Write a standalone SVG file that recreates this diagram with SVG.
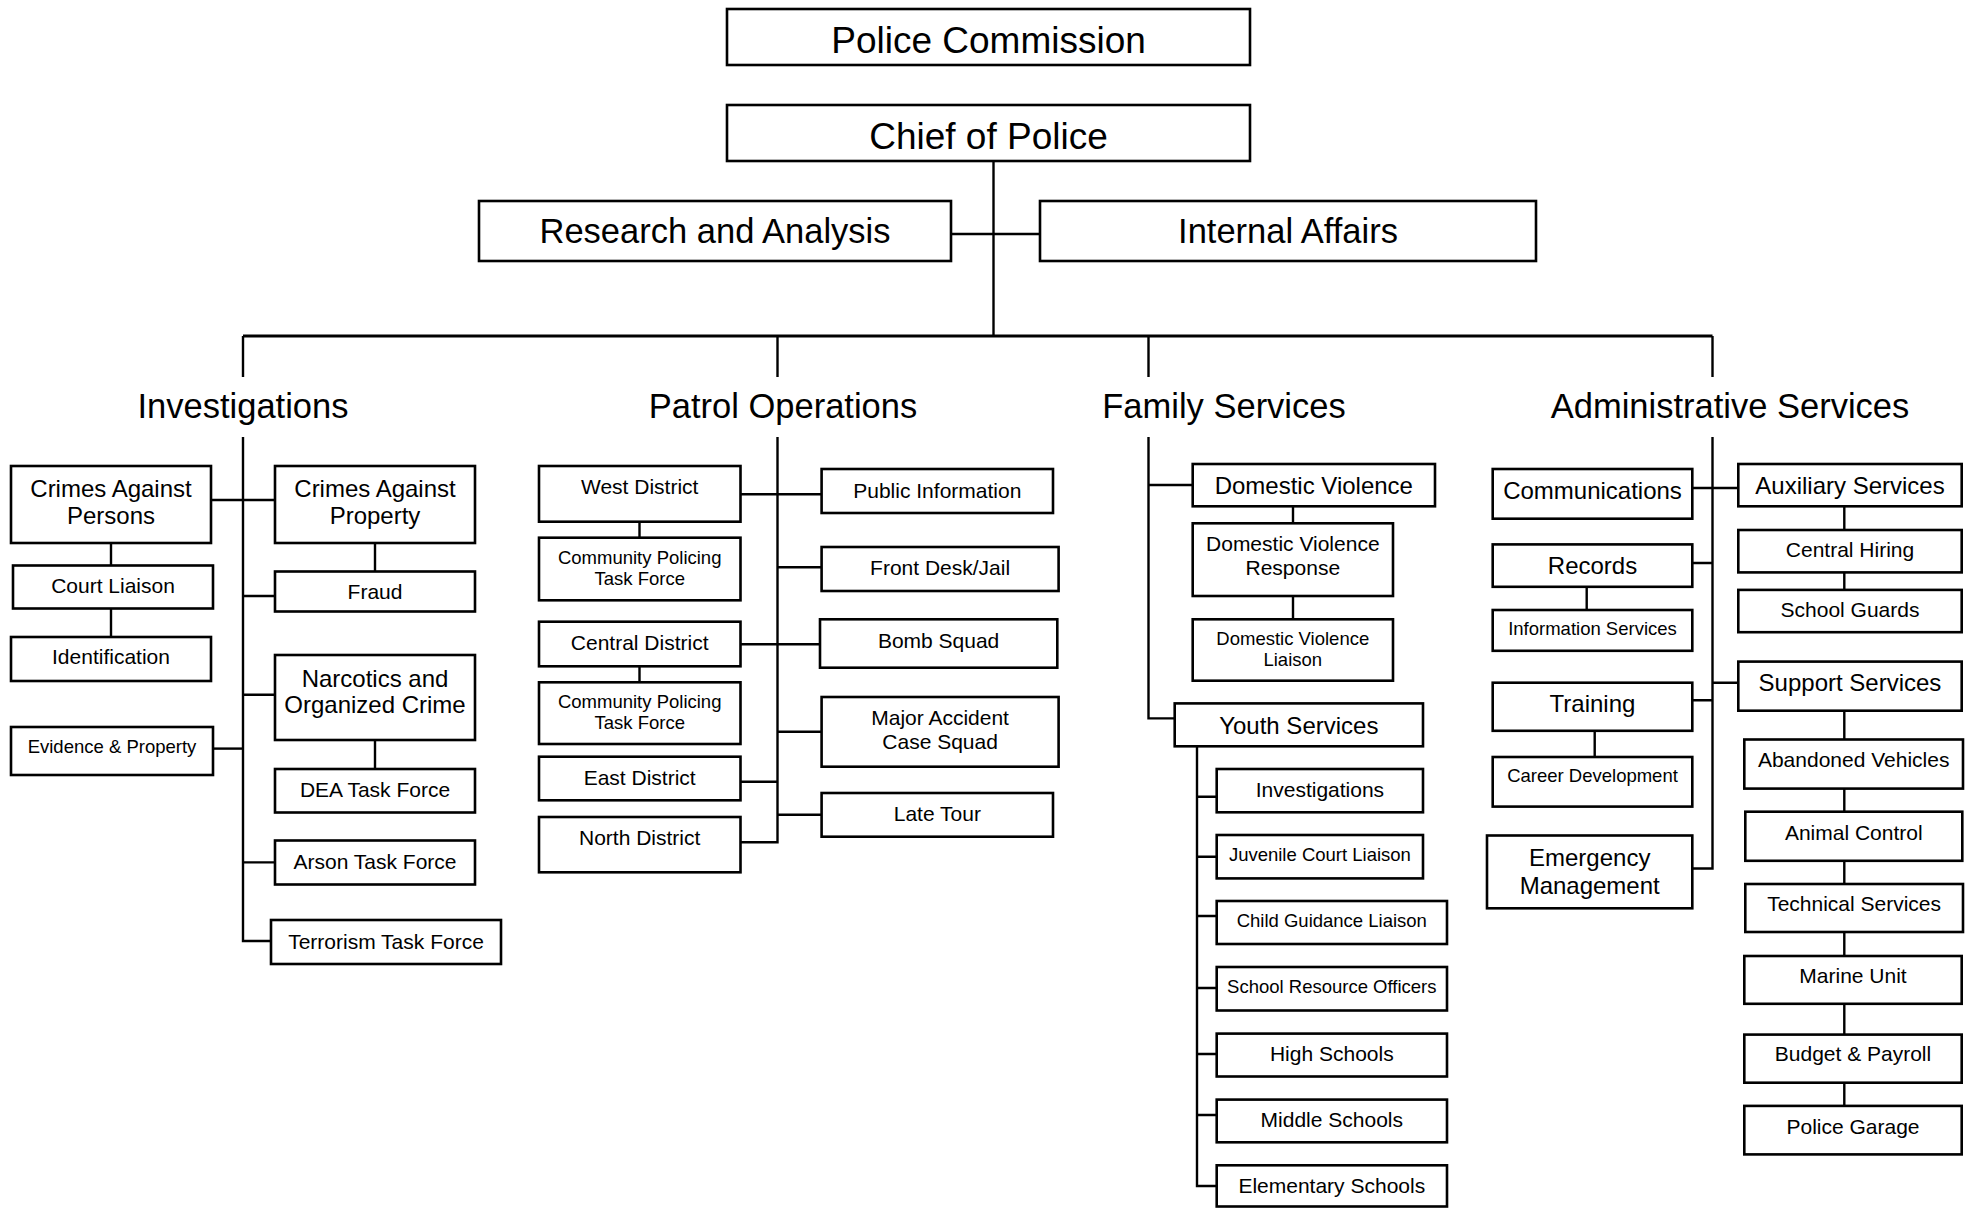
<svg xmlns="http://www.w3.org/2000/svg" width="1974" height="1209" viewBox="0 0 1974 1209">
  <style>
    rect { fill: #ffffff; stroke: #000000; stroke-width: 2.6; }
    text { font-family: "Liberation Sans", Arial, sans-serif; fill: #000000; text-anchor: middle; }
    .t37 { font-size: 37px; }
    .t34 { font-size: 34.5px; }
    .t24 { font-size: 24px; }
    .t21 { font-size: 21px; }
    .t18 { font-size: 18.5px; }
    #connectors path { fill: none; stroke: #000000; stroke-width: 2.4; }
    #connectors .bus { stroke-width: 3; }
  </style>

  <rect x="0" y="0" width="1974" height="1209" style="stroke:none"/>

  <!-- connectors -->
  <g id="connectors">
    <!-- top tier -->
    <path d="M993.5 162 V336"/>
    <path d="M951 234 H1040"/>
    <path class="bus" d="M243 336 H1712.5"/>
    <path d="M243 336 V377 M777.5 336 V377 M1148.5 336 V377 M1712.5 336 V377"/>

    <!-- investigations -->
    <path d="M243 437 V941 H272"/>
    <path d="M211 500 H275"/>
    <path d="M243 596 H275 M243 694.7 H275 M243 862.4 H275"/>
    <path d="M213 748.6 H243"/>
    <path d="M111 543 V566 M111 608.5 V637"/>
    <path d="M375 543 V572 M375 740 V769"/>

    <!-- patrol operations -->
    <path d="M777.5 437 V842.3 H740"/>
    <path d="M740 494.3 H823 M740 644.3 H821 M740 781.7 H777.5"/>
    <path d="M777.5 567.3 H823 M777.5 731.7 H823 M777.5 814.7 H823"/>
    <path d="M639.5 521.5 V538 M639.5 666.5 V682.5"/>

    <!-- family services -->
    <path d="M1148.5 437 V718.4 H1175"/>
    <path d="M1148.5 485 H1193"/>
    <path d="M1293 506 V524 M1293 596 V620"/>
    <path d="M1197 746 V1186 H1217"/>
    <path d="M1197 796.8 H1217 M1197 856.7 H1217 M1197 916 H1217 M1197 988 H1217 M1197 1054 H1217 M1197 1115 H1217"/>

    <!-- administrative services -->
    <path d="M1712.5 437 V868.5 H1692"/>
    <path d="M1692 488 H1739 M1692 563 H1712.5 M1692 700.3 H1712.5 M1712.5 682.8 H1739"/>
    <path d="M1586.7 586.5 V611 M1594.7 730.5 V758"/>
    <path d="M1844.3 506 V531 M1844.3 572 V591 M1844.3 710.5 V740.5 M1844.3 788.5 V812.5 M1844.3 860 V885 M1844.3 932 V957 M1844.3 1003.5 V1035.5 M1844.3 1082.5 V1107"/>
  </g>

  <!-- top tier -->
  <g id="police-commission"><rect x="727" y="9" width="523" height="56"/><text class="t37" x="988.5" y="52.5">Police Commission</text></g>
  <g id="chief-of-police"><rect x="727" y="105" width="523" height="56"/><text class="t37" x="988.5" y="148.5">Chief of Police</text></g>
  <g id="research-analysis"><rect x="479" y="201" width="472" height="60"/><text class="t34" x="715" y="243">Research and Analysis</text></g>
  <g id="internal-affairs"><rect x="1040" y="201" width="496" height="60"/><text class="t34" x="1288" y="243">Internal Affairs</text></g>

  <!-- division headings -->
  <g id="investigations"><text class="t34" x="243" y="418">Investigations</text></g>
  <g id="patrol-operations"><text class="t34" x="783" y="418">Patrol Operations</text></g>
  <g id="family-services"><text class="t34" x="1224" y="418">Family Services</text></g>
  <g id="administrative-services"><text class="t34" x="1730" y="418">Administrative Services</text></g>

  <!-- investigations -->
  <g id="crimes-persons"><rect x="11" y="466" width="200" height="77"/><text class="t24" x="111" y="497.3">Crimes Against</text><text class="t24" x="111" y="524.3">Persons</text></g>
  <g id="court-liaison"><rect x="13" y="565.5" width="200" height="43"/><text class="t21" x="113" y="592.7">Court Liaison</text></g>
  <g id="identification"><rect x="11" y="637" width="200" height="44"/><text class="t21" x="111" y="664.3">Identification</text></g>
  <g id="evidence-property"><rect x="11" y="727" width="202" height="48"/><text class="t18" x="112" y="752.5">Evidence &amp; Property</text></g>
  <g id="crimes-property"><rect x="275" y="466" width="200" height="77"/><text class="t24" x="375" y="497.3">Crimes Against</text><text class="t24" x="375" y="524.3">Property</text></g>
  <g id="fraud"><rect x="275" y="571.5" width="200" height="40"/><text class="t21" x="375" y="599">Fraud</text></g>
  <g id="narcotics"><rect x="275" y="655" width="200" height="85"/><text class="t24" x="375" y="686.5">Narcotics and</text><text class="t24" x="375" y="713.2">Organized Crime</text></g>
  <g id="dea-task-force"><rect x="275" y="769" width="200" height="43.5"/><text class="t21" x="375" y="796.5">DEA Task Force</text></g>
  <g id="arson-task-force"><rect x="275" y="840.5" width="200" height="44"/><text class="t21" x="375" y="868.5">Arson Task Force</text></g>
  <g id="terrorism-task-force"><rect x="271" y="920" width="230" height="44"/><text class="t21" x="386" y="948.5">Terrorism Task Force</text></g>

  <!-- patrol operations -->
  <g id="west-district"><rect x="539" y="466" width="201.5" height="55.7"/><text class="t21" x="639.7" y="494">West District</text></g>
  <g id="community-policing-1"><rect x="539" y="537.7" width="201.5" height="62.6"/><text class="t18" x="639.7" y="564.3">Community Policing</text><text class="t18" x="639.7" y="585">Task Force</text></g>
  <g id="central-district"><rect x="539" y="621.7" width="201.5" height="44.6"/><text class="t21" x="639.7" y="650">Central District</text></g>
  <g id="community-policing-2"><rect x="539" y="682.3" width="201.5" height="61.7"/><text class="t18" x="639.7" y="708.3">Community Policing</text><text class="t18" x="639.7" y="729">Task Force</text></g>
  <g id="east-district"><rect x="539" y="756.7" width="201.5" height="43.6"/><text class="t21" x="639.7" y="785">East District</text></g>
  <g id="north-district"><rect x="539" y="817" width="201.5" height="55.3"/><text class="t21" x="639.7" y="845">North District</text></g>
  <g id="public-information"><rect x="821.6" y="469" width="231.4" height="44"/><text class="t21" x="937.3" y="497.5">Public Information</text></g>
  <g id="front-desk-jail"><rect x="821.6" y="547" width="237" height="44"/><text class="t21" x="940.1" y="575">Front Desk/Jail</text></g>
  <g id="bomb-squad"><rect x="820" y="619.3" width="237.3" height="48.4"/><text class="t21" x="938.6" y="647.5">Bomb Squad</text></g>
  <g id="major-accident"><rect x="821.6" y="697" width="237" height="69.7"/><text class="t21" x="940.1" y="725">Major Accident</text><text class="t21" x="940.1" y="749">Case Squad</text></g>
  <g id="late-tour"><rect x="821.6" y="793" width="231.4" height="43.7"/><text class="t21" x="937.3" y="820.5">Late Tour</text></g>

  <!-- family services -->
  <g id="domestic-violence"><rect x="1192.7" y="464" width="242.3" height="42.3"/><text class="t24" x="1313.8" y="493.6">Domestic Violence</text></g>
  <g id="dv-response"><rect x="1192.7" y="523.3" width="200.3" height="72.7"/><text class="t21" x="1292.8" y="551">Domestic Violence</text><text class="t21" x="1292.8" y="575">Response</text></g>
  <g id="dv-liaison"><rect x="1192.7" y="619.3" width="200.3" height="61.4"/><text class="t18" x="1292.8" y="645">Domestic Violence</text><text class="t18" x="1292.8" y="665.6">Liaison</text></g>
  <g id="youth-services"><rect x="1174.7" y="703.4" width="248.3" height="42.9"/><text class="t24" x="1298.8" y="733.6">Youth Services</text></g>
  <g id="youth-investigations"><rect x="1216.7" y="769" width="206.3" height="43.3"/><text class="t21" x="1319.9" y="797">Investigations</text></g>
  <g id="juvenile-court"><rect x="1216.7" y="835" width="206.3" height="43.4"/><text class="t18" x="1319.9" y="860.6">Juvenile Court Liaison</text></g>
  <g id="child-guidance"><rect x="1216.7" y="901" width="230.3" height="43"/><text class="t18" x="1331.8" y="926.6">Child Guidance Liaison</text></g>
  <g id="school-resource"><rect x="1216.7" y="967" width="230.3" height="43.5"/><text class="t18" x="1331.8" y="992.6">School Resource Officers</text></g>
  <g id="high-schools"><rect x="1216.7" y="1033.6" width="230.3" height="42.9"/><text class="t21" x="1331.8" y="1060.5">High Schools</text></g>
  <g id="middle-schools"><rect x="1216.7" y="1099.6" width="230.3" height="42.7"/><text class="t21" x="1331.8" y="1127">Middle Schools</text></g>
  <g id="elementary-schools"><rect x="1216.7" y="1165.3" width="230.3" height="41.2"/><text class="t21" x="1331.8" y="1192.7">Elementary Schools</text></g>

  <!-- administrative services -->
  <g id="communications"><rect x="1492.7" y="469" width="199.6" height="49.7"/><text class="t24" x="1592.5" y="499.3">Communications</text></g>
  <g id="records"><rect x="1492.7" y="544.4" width="199.6" height="42.4"/><text class="t24" x="1592.5" y="573.5">Records</text></g>
  <g id="information-services"><rect x="1492.7" y="610" width="199.6" height="40.8"/><text class="t18" x="1592.5" y="634.6">Information Services</text></g>
  <g id="training"><rect x="1492.7" y="682.7" width="199.6" height="48.1"/><text class="t24" x="1592.5" y="712">Training</text></g>
  <g id="career-development"><rect x="1492.7" y="757" width="199.6" height="49.6"/><text class="t18" x="1592.5" y="781.6">Career Development</text></g>
  <g id="emergency-management"><rect x="1487" y="835.5" width="205.3" height="72.8"/><text class="t24" x="1589.7" y="865.5">Emergency</text><text class="t24" x="1589.7" y="893.5">Management</text></g>
  <g id="auxiliary-services"><rect x="1738.3" y="464" width="223.4" height="42.3"/><text class="t24" x="1850" y="493.5">Auxiliary Services</text></g>
  <g id="central-hiring"><rect x="1738.3" y="530" width="223.4" height="42.4"/><text class="t21" x="1850" y="557">Central Hiring</text></g>
  <g id="school-guards"><rect x="1738.3" y="589.9" width="223.4" height="42.3"/><text class="t21" x="1850" y="617">School Guards</text></g>
  <g id="support-services"><rect x="1738.3" y="661.6" width="223.4" height="49.1"/><text class="t24" x="1850" y="691.3">Support Services</text></g>
  <g id="abandoned-vehicles"><rect x="1744.3" y="739.5" width="218.7" height="49.1"/><text class="t21" x="1853.7" y="767">Abandoned Vehicles</text></g>
  <g id="animal-control"><rect x="1745.3" y="811.7" width="217" height="49.1"/><text class="t21" x="1853.8" y="839.5">Animal Control</text></g>
  <g id="technical-services"><rect x="1745.3" y="884" width="217.7" height="48"/><text class="t21" x="1854.1" y="911">Technical Services</text></g>
  <g id="marine-unit"><rect x="1744.3" y="956" width="217.4" height="47.8"/><text class="t21" x="1853" y="983.4">Marine Unit</text></g>
  <g id="budget-payroll"><rect x="1744.3" y="1034.6" width="217.4" height="48.1"/><text class="t21" x="1853" y="1061.3">Budget &amp; Payroll</text></g>
  <g id="police-garage"><rect x="1744.3" y="1105.9" width="217.4" height="48.5"/><text class="t21" x="1853" y="1133.5">Police Garage</text></g>
</svg>
